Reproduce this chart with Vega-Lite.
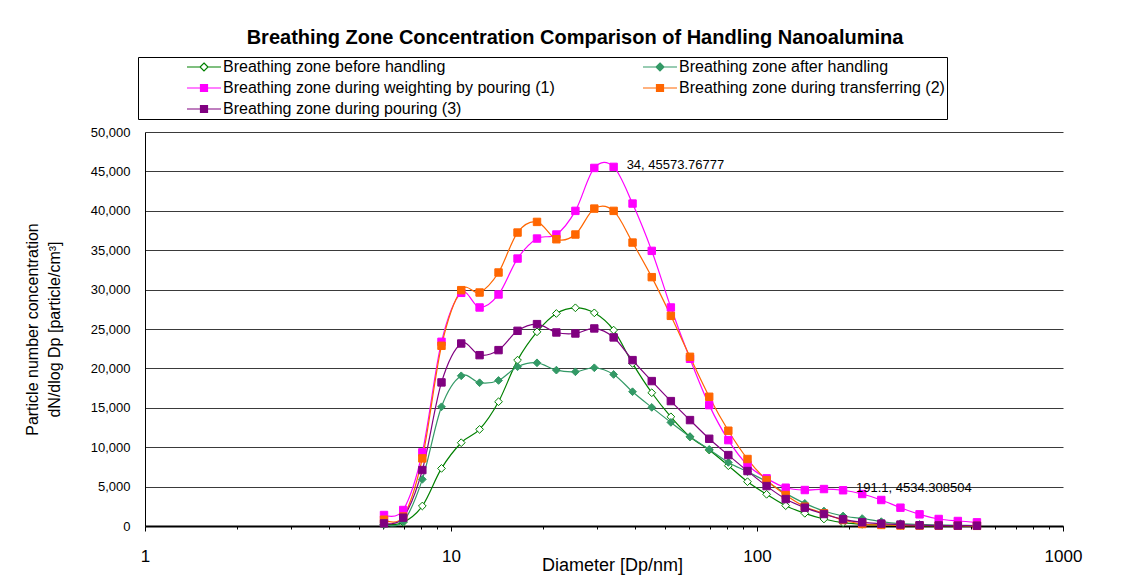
{
  "$schema": "https://vega.github.io/schema/vega-lite/v6.json",
  "width": 918,
  "height": 394,
  "autosize": {"type": "none"},
  "padding": {"left": 145, "top": 132, "right": 70, "bottom": 60},
  "background": "white",
  "title": {
    "text": "Breathing Zone Concentration Comparison of Handling Nanoalumina",
    "font": "Liberation Sans",
    "fontSize": 20,
    "fontWeight": "bold",
    "color": "#000",
    "anchor": "middle",
    "frame": "group",
    "dx": -29,
    "dy": 21,
    "baseline": "middle",
    "offset": 20
  },
  "config": {
    "font": "Liberation Sans",
    "view": {"stroke": null},
    "axis": {"labelFont": "Liberation Sans", "titleFont": "Liberation Sans", "labelColor": "#000", "titleColor": "#000", "titleFontWeight": "normal"},
    "legend": {
      "title": null, "orient": "none", "legendX": -7, "legendY": -75, "columns": 2,
      "direction": "horizontal",
      "padding": 2, "strokeColor": "#000", "fillColor": "#fff",
      "labelFont": "Liberation Sans", "labelFontSize": 16, "labelColor": "#000", "labelLimit": 600,
      "symbolSize": 100, "symbolStrokeWidth": 1.2, "symbolOffset": 56, "labelOffset": 11,
      "rowPadding": 5, "columnPadding": 41, "symbolOpacity": 1
    }
  },
  "datasets": {
    "main": [
      {"s": "Breathing zone before handling", "d": 6.04, "v": 200},
      {"s": "Breathing zone before handling", "d": 6.98, "v": 465},
      {"s": "Breathing zone before handling", "d": 8.06, "v": 2540},
      {"s": "Breathing zone before handling", "d": 9.31, "v": 7310},
      {"s": "Breathing zone before handling", "d": 10.8, "v": 10570},
      {"s": "Breathing zone before handling", "d": 12.4, "v": 12260},
      {"s": "Breathing zone before handling", "d": 14.3, "v": 15770},
      {"s": "Breathing zone before handling", "d": 16.5, "v": 21050},
      {"s": "Breathing zone before handling", "d": 19.1, "v": 24640},
      {"s": "Breathing zone before handling", "d": 22.1, "v": 26970},
      {"s": "Breathing zone before handling", "d": 25.5, "v": 27690},
      {"s": "Breathing zone before handling", "d": 29.4, "v": 27050},
      {"s": "Breathing zone before handling", "d": 34, "v": 24860},
      {"s": "Breathing zone before handling", "d": 39.2, "v": 20630},
      {"s": "Breathing zone before handling", "d": 45.3, "v": 16910},
      {"s": "Breathing zone before handling", "d": 52.3, "v": 13860},
      {"s": "Breathing zone before handling", "d": 60.4, "v": 11330},
      {"s": "Breathing zone before handling", "d": 69.8, "v": 9640},
      {"s": "Breathing zone before handling", "d": 80.6, "v": 7650},
      {"s": "Breathing zone before handling", "d": 93.1, "v": 5620},
      {"s": "Breathing zone before handling", "d": 107.5, "v": 4020},
      {"s": "Breathing zone before handling", "d": 124.1, "v": 2580},
      {"s": "Breathing zone before handling", "d": 143.3, "v": 1610},
      {"s": "Breathing zone before handling", "d": 165.5, "v": 890},
      {"s": "Breathing zone before handling", "d": 191.1, "v": 420},
      {"s": "Breathing zone before handling", "d": 220.7, "v": 210},
      {"s": "Breathing zone before handling", "d": 254.8, "v": 130},
      {"s": "Breathing zone before handling", "d": 294.3, "v": 80},
      {"s": "Breathing zone before handling", "d": 339.8, "v": 60},
      {"s": "Breathing zone before handling", "d": 392.4, "v": 40},
      {"s": "Breathing zone before handling", "d": 453.2, "v": 30},
      {"s": "Breathing zone before handling", "d": 523.3, "v": 20},
      {"s": "Breathing zone after handling", "d": 6.04, "v": 210},
      {"s": "Breathing zone after handling", "d": 6.98, "v": 550},
      {"s": "Breathing zone after handling", "d": 8.06, "v": 5920},
      {"s": "Breathing zone after handling", "d": 9.31, "v": 15130},
      {"s": "Breathing zone after handling", "d": 10.8, "v": 19060},
      {"s": "Breathing zone after handling", "d": 12.4, "v": 18180},
      {"s": "Breathing zone after handling", "d": 14.3, "v": 18470},
      {"s": "Breathing zone after handling", "d": 16.5, "v": 20210},
      {"s": "Breathing zone after handling", "d": 19.1, "v": 20710},
      {"s": "Breathing zone after handling", "d": 22.1, "v": 19780},
      {"s": "Breathing zone after handling", "d": 25.5, "v": 19570},
      {"s": "Breathing zone after handling", "d": 29.4, "v": 20080},
      {"s": "Breathing zone after handling", "d": 34, "v": 19230},
      {"s": "Breathing zone after handling", "d": 39.2, "v": 17040},
      {"s": "Breathing zone after handling", "d": 45.3, "v": 15050},
      {"s": "Breathing zone after handling", "d": 52.3, "v": 13150},
      {"s": "Breathing zone after handling", "d": 60.4, "v": 11330},
      {"s": "Breathing zone after handling", "d": 69.8, "v": 9720},
      {"s": "Breathing zone after handling", "d": 80.6, "v": 8070},
      {"s": "Breathing zone after handling", "d": 93.1, "v": 6890},
      {"s": "Breathing zone after handling", "d": 107.5, "v": 5620},
      {"s": "Breathing zone after handling", "d": 124.1, "v": 4140},
      {"s": "Breathing zone after handling", "d": 143.3, "v": 2870},
      {"s": "Breathing zone after handling", "d": 165.5, "v": 1900},
      {"s": "Breathing zone after handling", "d": 191.1, "v": 1270},
      {"s": "Breathing zone after handling", "d": 220.7, "v": 950},
      {"s": "Breathing zone after handling", "d": 254.8, "v": 550},
      {"s": "Breathing zone after handling", "d": 294.3, "v": 300},
      {"s": "Breathing zone after handling", "d": 339.8, "v": 200},
      {"s": "Breathing zone after handling", "d": 392.4, "v": 130},
      {"s": "Breathing zone after handling", "d": 453.2, "v": 90},
      {"s": "Breathing zone after handling", "d": 523.3, "v": 60},
      {"s": "Breathing zone during weighting by pouring (1)", "d": 6.04, "v": 1395},
      {"s": "Breathing zone during weighting by pouring (1)", "d": 6.98, "v": 2030},
      {"s": "Breathing zone during weighting by pouring (1)", "d": 8.06, "v": 9340},
      {"s": "Breathing zone during weighting by pouring (1)", "d": 9.31, "v": 23375},
      {"s": "Breathing zone during weighting by pouring (1)", "d": 10.8, "v": 29590},
      {"s": "Breathing zone during weighting by pouring (1)", "d": 12.4, "v": 27730},
      {"s": "Breathing zone during weighting by pouring (1)", "d": 14.3, "v": 29380},
      {"s": "Breathing zone during weighting by pouring (1)", "d": 16.5, "v": 33940},
      {"s": "Breathing zone during weighting by pouring (1)", "d": 19.1, "v": 36480},
      {"s": "Breathing zone during weighting by pouring (1)", "d": 22.1, "v": 36990},
      {"s": "Breathing zone during weighting by pouring (1)", "d": 25.5, "v": 39990},
      {"s": "Breathing zone during weighting by pouring (1)", "d": 29.4, "v": 45440},
      {"s": "Breathing zone during weighting by pouring (1)", "d": 34, "v": 45573.76777},
      {"s": "Breathing zone during weighting by pouring (1)", "d": 39.2, "v": 40920},
      {"s": "Breathing zone during weighting by pouring (1)", "d": 45.3, "v": 34915},
      {"s": "Breathing zone during weighting by pouring (1)", "d": 52.3, "v": 27730},
      {"s": "Breathing zone during weighting by pouring (1)", "d": 60.4, "v": 21220},
      {"s": "Breathing zone during weighting by pouring (1)", "d": 69.8, "v": 15340},
      {"s": "Breathing zone during weighting by pouring (1)", "d": 80.6, "v": 10900},
      {"s": "Breathing zone during weighting by pouring (1)", "d": 93.1, "v": 7735},
      {"s": "Breathing zone during weighting by pouring (1)", "d": 107.5, "v": 6045},
      {"s": "Breathing zone during weighting by pouring (1)", "d": 124.1, "v": 4860},
      {"s": "Breathing zone during weighting by pouring (1)", "d": 143.3, "v": 4565},
      {"s": "Breathing zone during weighting by pouring (1)", "d": 165.5, "v": 4690},
      {"s": "Breathing zone during weighting by pouring (1)", "d": 191.1, "v": 4534.308504},
      {"s": "Breathing zone during weighting by pouring (1)", "d": 220.7, "v": 4060},
      {"s": "Breathing zone during weighting by pouring (1)", "d": 254.8, "v": 3300},
      {"s": "Breathing zone during weighting by pouring (1)", "d": 294.3, "v": 2325},
      {"s": "Breathing zone during weighting by pouring (1)", "d": 339.8, "v": 1480},
      {"s": "Breathing zone during weighting by pouring (1)", "d": 392.4, "v": 890},
      {"s": "Breathing zone during weighting by pouring (1)", "d": 453.2, "v": 635},
      {"s": "Breathing zone during weighting by pouring (1)", "d": 523.3, "v": 465},
      {"s": "Breathing zone during transferring (2)", "d": 6.04, "v": 800},
      {"s": "Breathing zone during transferring (2)", "d": 6.98, "v": 1200},
      {"s": "Breathing zone during transferring (2)", "d": 8.06, "v": 8580},
      {"s": "Breathing zone during transferring (2)", "d": 9.31, "v": 22870},
      {"s": "Breathing zone during transferring (2)", "d": 10.8, "v": 29930},
      {"s": "Breathing zone during transferring (2)", "d": 12.4, "v": 29630},
      {"s": "Breathing zone during transferring (2)", "d": 14.3, "v": 32170},
      {"s": "Breathing zone during transferring (2)", "d": 16.5, "v": 37240},
      {"s": "Breathing zone during transferring (2)", "d": 19.1, "v": 38590},
      {"s": "Breathing zone during transferring (2)", "d": 22.1, "v": 36390},
      {"s": "Breathing zone during transferring (2)", "d": 25.5, "v": 36990},
      {"s": "Breathing zone during transferring (2)", "d": 29.4, "v": 40280},
      {"s": "Breathing zone during transferring (2)", "d": 34, "v": 39990},
      {"s": "Breathing zone during transferring (2)", "d": 39.2, "v": 35970},
      {"s": "Breathing zone during transferring (2)", "d": 45.3, "v": 31580},
      {"s": "Breathing zone during transferring (2)", "d": 52.3, "v": 26670},
      {"s": "Breathing zone during transferring (2)", "d": 60.4, "v": 21470},
      {"s": "Breathing zone during transferring (2)", "d": 69.8, "v": 16400},
      {"s": "Breathing zone during transferring (2)", "d": 80.6, "v": 12090},
      {"s": "Breathing zone during transferring (2)", "d": 93.1, "v": 8500},
      {"s": "Breathing zone during transferring (2)", "d": 107.5, "v": 5830},
      {"s": "Breathing zone during transferring (2)", "d": 124.1, "v": 3930},
      {"s": "Breathing zone during transferring (2)", "d": 143.3, "v": 2450},
      {"s": "Breathing zone during transferring (2)", "d": 165.5, "v": 1600},
      {"s": "Breathing zone during transferring (2)", "d": 191.1, "v": 760},
      {"s": "Breathing zone during transferring (2)", "d": 220.7, "v": 250},
      {"s": "Breathing zone during transferring (2)", "d": 254.8, "v": 130},
      {"s": "Breathing zone during transferring (2)", "d": 294.3, "v": 60},
      {"s": "Breathing zone during transferring (2)", "d": 339.8, "v": 50},
      {"s": "Breathing zone during transferring (2)", "d": 392.4, "v": 40},
      {"s": "Breathing zone during transferring (2)", "d": 453.2, "v": 30},
      {"s": "Breathing zone during transferring (2)", "d": 523.3, "v": 20},
      {"s": "Breathing zone during pouring (3)", "d": 6.04, "v": 340},
      {"s": "Breathing zone during pouring (3)", "d": 6.98, "v": 1060},
      {"s": "Breathing zone during pouring (3)", "d": 8.06, "v": 7100},
      {"s": "Breathing zone during pouring (3)", "d": 9.31, "v": 18220},
      {"s": "Breathing zone during pouring (3)", "d": 10.8, "v": 23160},
      {"s": "Breathing zone during pouring (3)", "d": 12.4, "v": 21680},
      {"s": "Breathing zone during pouring (3)", "d": 14.3, "v": 22320},
      {"s": "Breathing zone during pouring (3)", "d": 16.5, "v": 24770},
      {"s": "Breathing zone during pouring (3)", "d": 19.1, "v": 25620},
      {"s": "Breathing zone during pouring (3)", "d": 22.1, "v": 24560},
      {"s": "Breathing zone during pouring (3)", "d": 25.5, "v": 24430},
      {"s": "Breathing zone during pouring (3)", "d": 29.4, "v": 25070},
      {"s": "Breathing zone during pouring (3)", "d": 34, "v": 23930},
      {"s": "Breathing zone during pouring (3)", "d": 39.2, "v": 21050},
      {"s": "Breathing zone during pouring (3)", "d": 45.3, "v": 18390},
      {"s": "Breathing zone during pouring (3)", "d": 52.3, "v": 15850},
      {"s": "Breathing zone during pouring (3)", "d": 60.4, "v": 13440},
      {"s": "Breathing zone during pouring (3)", "d": 69.8, "v": 11070},
      {"s": "Breathing zone during pouring (3)", "d": 80.6, "v": 9000},
      {"s": "Breathing zone during pouring (3)", "d": 93.1, "v": 6975},
      {"s": "Breathing zone during pouring (3)", "d": 107.5, "v": 5070},
      {"s": "Breathing zone during pouring (3)", "d": 124.1, "v": 3420},
      {"s": "Breathing zone during pouring (3)", "d": 143.3, "v": 2325},
      {"s": "Breathing zone during pouring (3)", "d": 165.5, "v": 1520},
      {"s": "Breathing zone during pouring (3)", "d": 191.1, "v": 845},
      {"s": "Breathing zone during pouring (3)", "d": 220.7, "v": 465},
      {"s": "Breathing zone during pouring (3)", "d": 254.8, "v": 300},
      {"s": "Breathing zone during pouring (3)", "d": 294.3, "v": 180},
      {"s": "Breathing zone during pouring (3)", "d": 339.8, "v": 100},
      {"s": "Breathing zone during pouring (3)", "d": 392.4, "v": 70},
      {"s": "Breathing zone during pouring (3)", "d": 453.2, "v": 50},
      {"s": "Breathing zone during pouring (3)", "d": 523.3, "v": 40}
    ],
    "notes": [
      {"d": 34, "v": 45573.76777, "t": "34, 45573.76777"},
      {"d": 191.1, "v": 4534.308504, "t": "191.1, 4534.308504"}
    ]
  },
  "encoding": {
    "x": {
      "field": "d", "type": "quantitative",
      "scale": {"type": "log", "domain": [1, 1000], "nice": false},
      "axis": {
        "title": "Diameter [Dp/nm]",
        "titleFontSize": 18,
        "titleX": 467,
        "titleY": 39,
        "titleAlign": "center",
        "titleBaseline": "middle",
        "values": [1,2,3,4,5,6,7,8,9,10,20,30,40,50,60,70,80,90,100,200,300,400,500,600,700,800,900,1000],
        "format": "d",
        "labelExpr": "(datum.value==1||datum.value==10||datum.value==100||datum.value==1000) ? datum.label : ''",
        "labelFontSize": 17,
        "labelPadding": 17,
        "labelFlush": false,
        "labelOverlap": false,
        "grid": false,
        "domainColor": "#000",
        "domainWidth": 2,
        "tickColor": "#000",
        "tickSize": {"condition": {"test": "datum.value==1||datum.value==10||datum.value==100||datum.value==1000", "value": 5}, "value": 3}
      }
    },
    "y": {
      "field": "v", "type": "quantitative",
      "scale": {"domain": [0, 50000], "nice": false},
      "axis": {
        "title": ["Particle number concentration", "dN/dlog Dp [particle/cm³]"],
        "titleFontSize": 16,
        "titleLineHeight": 22,
        "titlePadding": 28,
        "values": [0,5000,10000,15000,20000,25000,30000,35000,40000,45000,50000],
        "format": ",d",
        "labelFontSize": 13,
        "labelPadding": 15,
        "ticks": false,
        "grid": true,
        "gridColor": "#3a3a3a",
        "gridWidth": 1,
        "domainColor": "#000",
        "domainWidth": 1
      }
    }
  },
  "layer": [
    {
      "data": {"name": "main"},
      "mark": {"type": "line", "interpolate": "cardinal", "strokeWidth": 1.2},
      "encoding": {
        "stroke": {
          "field": "s", "type": "nominal",
          "scale": {
            "domain": ["Breathing zone before handling", "Breathing zone after handling", "Breathing zone during weighting by pouring (1)", "Breathing zone during transferring (2)", "Breathing zone during pouring (3)"],
            "range": ["#008000", "#339966", "#ff00ff", "#ff6600", "#800080"]
          }
        },
        "detail": {"field": "s"}
      }
    },
    {
      "data": {"name": "main"},
      "transform": [{"filter": {"field": "s", "oneOf": ["Breathing zone before handling", "Breathing zone after handling"]}}],
      "mark": {"type": "point", "shape": "diamond", "size": 60, "filled": true, "strokeWidth": 1, "opacity": 1},
      "encoding": {
        "stroke": {"field": "s", "type": "nominal"},
        "fill": {
          "field": "s", "type": "nominal",
          "scale": {
            "domain": ["Breathing zone before handling", "Breathing zone after handling", "Breathing zone during weighting by pouring (1)", "Breathing zone during transferring (2)", "Breathing zone during pouring (3)"],
            "range": ["#ffffff", "#339966", "#ff00ff", "#ff6600", "#800080"]
          }
        }
      }
    },
    {
      "data": {"name": "main"},
      "transform": [{"filter": {"not": {"field": "s", "oneOf": ["Breathing zone before handling", "Breathing zone after handling"]}}}],
      "mark": {"type": "point", "shape": "square", "size": 55, "filled": true, "strokeWidth": 1, "opacity": 1},
      "encoding": {
        "stroke": {"field": "s", "type": "nominal"},
        "fill": {"field": "s", "type": "nominal"}
      }
    },
    {
      "data": {"name": "main"},
      "transform": [{"filter": {"field": "v", "lt": -1}}],
      "mark": {"type": "point", "filled": true, "strokeWidth": 1.2},
      "encoding": {
        "shape": {
          "field": "s", "type": "nominal",
          "scale": {
            "domain": ["Breathing zone before handling", "Breathing zone after handling", "Breathing zone during weighting by pouring (1)", "Breathing zone during transferring (2)", "Breathing zone during pouring (3)"],
            "range": [
              "M-3.4,0H-0.8M0.8,0H3.4M0,-0.8L0.8,0L0,0.8L-0.8,0Z",
              "M-3.4,0H-0.8M0.8,0H3.4M0,-0.8L0.8,0L0,0.8L-0.8,0Z",
              "M-3.4,0H-0.7M0.7,0H3.4M-0.7,-0.7H0.7V0.7H-0.7Z",
              "M-3.4,0H-0.7M0.7,0H3.4M-0.7,-0.7H0.7V0.7H-0.7Z",
              "M-3.4,0H-0.7M0.7,0H3.4M-0.7,-0.7H0.7V0.7H-0.7Z"
            ]
          }
        },
        "stroke": {"field": "s", "type": "nominal"},
        "fill": {"field": "s", "type": "nominal"}
      }
    },
    {
      "data": {"name": "notes"},
      "mark": {"type": "text", "align": "left", "baseline": "middle", "dx": 13, "dy": -2, "font": "Liberation Sans", "fontSize": 13, "color": "#000"},
      "encoding": {"text": {"field": "t"}}
    }
  ]
}
